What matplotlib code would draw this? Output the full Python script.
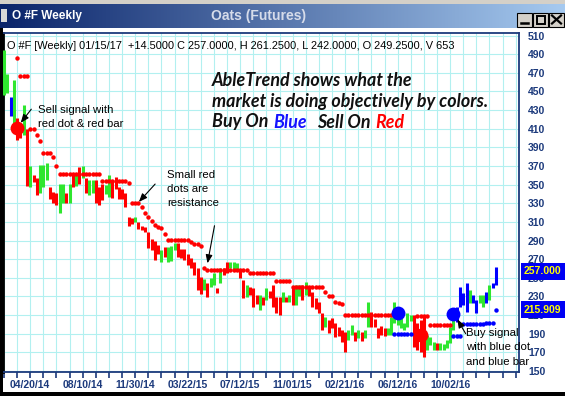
import matplotlib
matplotlib.use("Agg")
import matplotlib.pyplot as plt
import numpy as np
from matplotlib.colors import LinearSegmentedColormap
from matplotlib.patches import Rectangle
from matplotlib.transforms import blended_transform_factory

plt.rcParams["font.family"] = ["Liberation Sans", "DejaVu Sans"]

W, H = 565, 396

# weekly bars, week 0 = 04/20/14
first_week = -8
highs = [494, 469, 444, 462, 422, 414, 435, 410,
         370, 360, 357, 371, 371, 373, 347, 342, 341, 351, 351, 341, 351, 360, 362, 369, 370, 357, 355, 355, 355, 347,
         351, 350, 360, 355, 358, 347, 345, 341, 315, 314, 315, 310, 306, 305, 299, 292, 290, 285, 280, 283, 283, 284,
         287, 287, 281, 281, 276, 271, 267, 260, 251, 249,
         244, 250, 255, 239, 260, 260, 267, 267, 267, 266, 258, 248, 242, 240, 239, 231, 231, 229, 239, 236, 242, 229,
         229, 235, 229, 231, 239, 242, 242, 242, 245, 240,
         235, 228, 224, 212, 208, 205, 207, 201, 197, 194, 192, 194, 199, 192, 194, 192, 194, 224, 213, 206, 196, 198,
         196, 196, 208, 224, 207, 207, 202, 212, 210, 210,
         201, 205, 208, 189, 186, 181, 180, 180, 179, 183, 197, 208, 219, 240, 234, 244, 237, 231, 226, 231, 231, 235,
         242, 244, 261.25]
lows = [446, 448, 424, 411, 398, 400, 403, 349,
        347, 353, 339, 341, 347, 355, 335, 330, 328, 319, 330, 330, 330, 347, 349, 351, 357, 341, 339, 341, 330, 328,
        333, 340, 337, 336, 345, 335, 335, 326, 306, 308, 310, 302, 301, 299, 282, 280, 269, 275, 267, 272, 267, 268,
        280, 272, 271, 269, 264, 260, 253, 237, 233, 237,
        229, 240, 242, 234, 244, 253, 255, 260, 257, 258, 250, 228, 229, 231, 219, 222, 215, 221, 226, 228, 219, 212,
        210, 224, 224, 224, 221, 221, 230, 226, 231, 230,
        219, 216, 212, 194, 197, 191, 196, 186, 188, 181, 170, 183, 189, 182, 185, 182, 185, 197, 197, 197, 185, 189,
        187, 189, 189, 201, 199, 196, 194, 197, 204, 176,
        173, 170, 165, 173, 178, 173, 173, 173, 173, 175, 180, 194, 203, 219, 221, 213, 223, 223, 212, 223, 219, 223,
        226, 239, 242]
bar_colors = ("ggbgrrgr"
              "grrgggrrrggrgrgrgrggrr"
              "rggrrrrrrrgrrrrrrrgrgggrrrrrrrrg"
              "rggrgrrgggrrgrrrgrgrrrrgrgrggrgr"
              "rrrrgrrrrrrggrgrggrrrrrggggggggr"
              "rrrgggrggggg" "bbbbgbbggbgbb")

# stop dots: (first week, last week, price)
red_runs = [(-4, -4, 486), (-3, -1, 467), (0, 1, 410), (2, 2, 403), (3, 3, 397), (4, 6, 384), (7, 7, 380),
            (8, 8, 370), (9, 21, 361), (22, 29, 354), (30, 30, 352), (31, 33, 330), (34, 34, 326), (35, 35, 320),
            (36, 36, 315), (37, 37, 311), (38, 38, 307), (39, 39, 304), (40, 40, 303), (41, 41, 297),
            (42, 48, 291), (49, 49, 288), (50, 51, 286), (52, 52, 284), (53, 53, 261), (54, 66, 258),
            (67, 74, 255), (75, 79, 247), (80, 89, 240), (90, 90, 235), (91, 92, 230), (93, 93, 224),
            (94, 94, 223), (95, 95, 222), (96, 110, 210), (118, 121, 209), (122, 128, 199)]
blue_runs = [(111, 116, 190), (129, 131, 187), (132, 138, 200), (139, 141, 202), (142, 142, 215.909)]

signal_weeks = [-4, 112, 119, 129]
signal_prices = [411, 212, 189, 211]
signal_colors = ["r", "b", "r", "b"]

date_labels = ["04/20/14", "08/10/14", "11/30/14", "03/22/15", "07/12/15",
               "11/01/15", "02/21/16", "06/12/16", "10/02/16"]
price_ticks = list(range(150, 511, 20))
last_close = 257.0
last_stop = 215.909

COL = {"g": "#2ee62e", "r": "#ff0000", "b": "#0000ff"}
NAVY = "#1c3a7c"

fig = plt.figure(figsize=(W / 100, H / 100), dpi=100)
fig.patch.set_facecolor("white")


def fx(px):
    return px / W


def fy(py):
    return 1 - py / H


ax = fig.add_axes([fx(3), fy(372), fx(519) - fx(3), fy(33) - fy(372)])
weeks = list(range(first_week, first_week + len(highs)))
ax.vlines(weeks, lows, highs, colors=[COL[c] for c in bar_colors], lw=2.2, zorder=3)


def expand(runs):
    ws, ps = [], []
    for a, b, v in runs:
        for k in range(a, b + 1):
            ws.append(k)
            ps.append(v)
    return ws, ps


rw, rp = expand(red_runs)
bw, bp = expand(blue_runs)
ax.plot(rw, rp, "o", ms=3.2, mew=0, color=COL["r"], zorder=4)
ax.plot(bw, bp, "o", ms=3.2, mew=0, color=COL["b"], zorder=4)
for w, p, c in zip(signal_weeks, signal_prices, signal_colors):
    ax.plot(w, p, "o", ms=10, mew=0, color=COL[c], zorder=5)

ax.set_xlim(-8.3, 149.0)
ax.set_ylim(148.9, 512.7)
ax.set_xticks(range(0, 129, 16))
ax.set_xticklabels(date_labels, fontweight="bold", fontsize=7.5, color=NAVY)
ax.set_xticks(range(-8, 149, 4), minor=True)
ax.tick_params(axis="x", which="both", direction="out", length=4, width=1.2, color=NAVY, pad=1.5)
ax.yaxis.tick_right()
ax.set_yticks(price_ticks)
ax.set_yticklabels([str(v) for v in price_ticks], fontweight="bold", fontsize=7.5, color=NAVY)
ax.tick_params(axis="y", length=0, pad=6.5)
ax.grid(True, which="both", color="#b2f0f0", lw=0.8)
ax.set_axisbelow(True)
for s in ("top", "right", "bottom"):
    ax.spines[s].set_color(NAVY)
    ax.spines[s].set_linewidth(1.3)
ax.spines["left"].set_color("black")
ax.spines["left"].set_linewidth(2)

# last price and stop boxes on the right scale
tr = blended_transform_factory(ax.transAxes, ax.transData)
for val, txt in [(last_close, "257.000"), (last_stop, "215.909")]:
    ax.add_patch(Rectangle((1.004, val - 9.2), 0.09, 18.4, transform=tr, clip_on=False,
                           facecolor="#0000f4", edgecolor="none", zorder=10))
    ax.text(1.008, val, txt, transform=tr, color="#ffff00", fontweight="bold", fontsize=7.5,
            va="center", ha="left", zorder=11, clip_on=False)

# window chrome and notes, in pixel coordinates
ov = fig.add_axes([0, 0, 1, 1], zorder=5)
ov.set_xlim(0, W)
ov.set_ylim(H, 0)
ov.axis("off")
ov.patch.set_alpha(0)

grad = LinearSegmentedColormap.from_list("tb", ["#0a246a", "#a6caf0"])
ov.imshow(np.linspace(0, 1, 256)[None, :], cmap=grad, extent=(0, W, 28, 3.5), aspect="auto", zorder=1)
ov.add_patch(Rectangle((0, 0), W, 3.5, facecolor="#d4d0c8", edgecolor="none"))
ov.add_patch(Rectangle((0, 28), 2.5, H - 28, facecolor="black", edgecolor="none"))
ov.add_patch(Rectangle((0, 392), W, 4, facecolor="black", edgecolor="none"))
ov.add_patch(Rectangle((1, 9), 6, 13, facecolor="#d8d8d8", edgecolor="none", zorder=3))
ov.text(12, 16, "O #F Weekly", color="white", fontweight="bold", fontsize=8.5, va="center", ha="left", zorder=3)
ov.text(259, 16, "Oats (Futures)", color="#d6dcea", fontweight="bold", fontsize=10, va="center",
        ha="center", zorder=3)
for bx in (517, 533, 549):
    ov.add_patch(Rectangle((bx, 12.5), 15, 14, facecolor="#d4d0c8", edgecolor="black", lw=0.8, zorder=3))
ov.plot([521, 528], [23, 23], color="black", lw=1.8, zorder=4)
ov.add_patch(Rectangle((536.5, 15.5), 8, 8, fill=False, edgecolor="black", lw=1.4, zorder=4))
ov.plot([552, 561], [15.5, 23.5], color="black", lw=1.6, zorder=4)
ov.plot([552, 561], [23.5, 15.5], color="black", lw=1.6, zorder=4)

ov.text(7, 46, "O #F [Weekly] 01/15/17  +14.5000 C 257.0000, H 261.2500, L 242.0000, O 249.2500, V 653",
        fontsize=7.9, color="black", va="center", ha="left")

big = dict(fontsize=12.9, fontweight="bold", style="italic", family=["Lato", "DejaVu Sans"],
           va="center", ha="left")
ov.text(212, 80, "AbleTrend shows what the", color="#111111", **big)
ov.text(212, 101, "market is doing objectively by colors.", color="#111111", **big)
renderer = fig.canvas.get_renderer()
x = 212
for txt, c, gap in [("Buy On", "#111111", 5), ("Blue", "#1414ff", 10), ("Sell On", "#111111", 5),
                    ("Red", "#ff0000", 0)]:
    t = ov.text(x, 122, txt, color=c, **big)
    x = t.get_window_extent(renderer).x1 + gap

note = dict(fontsize=8.2, color="black", va="center", ha="left")
ov.text(38, 110, "Sell signal with", **note)
ov.text(38, 124, "red dot & red bar", **note)
ov.text(167, 175, "Small red", **note)
ov.text(167, 189, "dots are", **note)
ov.text(167, 203, "resistance", **note)
ov.text(466, 333, "Buy signal", **note)
ov.text(466, 347, "with blue dot", **note)
ov.text(466, 362, "and blue bar", **note)
arrow = dict(arrowstyle="-|>,head_length=0.5,head_width=0.2", color="black", lw=0.8)
ov.annotate("", xy=(19, 125), xytext=(33, 107), arrowprops=arrow)
ov.annotate("", xy=(137, 204), xytext=(157, 182), arrowprops=arrow)
ov.annotate("", xy=(207, 266), xytext=(215, 223), arrowprops=arrow)
ov.annotate("", xy=(456, 317), xytext=(467, 336), arrowprops=arrow)

fig.savefig("out.png", dpi=100)
